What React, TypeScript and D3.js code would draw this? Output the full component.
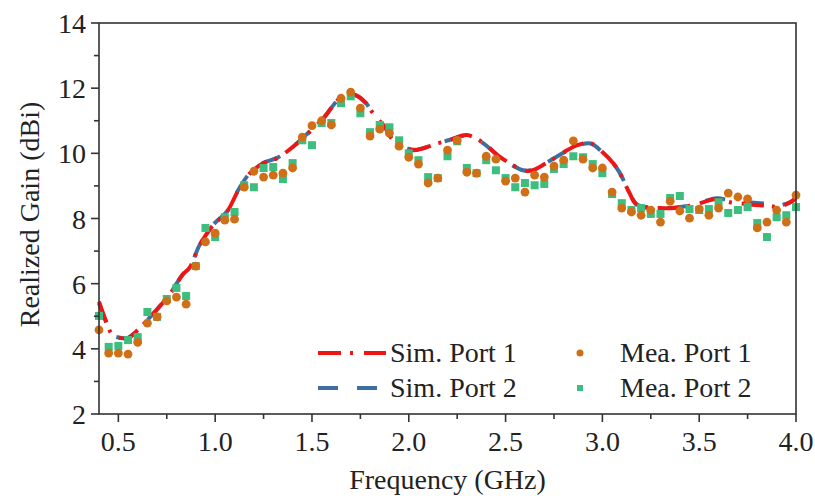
import React from "react";
import * as d3 from "d3";

const simFreq = [0.40, 0.44, 0.47, 0.51, 0.55, 0.61, 0.66, 0.77, 0.83, 0.87, 0.92, 0.99, 1.06, 1.12, 1.18, 1.25, 1.32, 1.40, 1.47, 1.56, 1.645, 1.72, 1.78, 1.815, 1.877, 1.92, 2.02, 2.15, 2.21, 2.30, 2.38, 2.46, 2.52, 2.59, 2.64, 2.71, 2.82, 2.87, 2.94, 3.00, 3.055, 3.09, 3.14, 3.18, 3.30, 3.37, 3.47, 3.59, 3.66, 3.75, 3.87, 3.91, 3.985, 4.0];
const simPort1 = [5.45, 4.79, 4.42, 4.33, 4.33, 4.64, 4.94, 5.71, 6.26, 6.51, 7.18, 7.80, 8.20, 8.87, 9.39, 9.70, 9.85, 10.19, 10.56, 11.08, 11.69, 11.80, 11.54, 11.23, 10.80, 10.40, 10.10, 10.31, 10.40, 10.56, 10.34, 9.94, 9.70, 9.48, 9.48, 9.70, 10.10, 10.25, 10.31, 10.04, 9.70, 9.39, 8.78, 8.41, 8.32, 8.32, 8.41, 8.60, 8.50, 8.44, 8.38, 8.35, 8.56, 8.70];
const simPort2 = [5.40, 4.78, 4.42, 4.34, 4.34, 4.64, 4.95, 5.72, 6.27, 6.52, 7.19, 7.81, 8.21, 8.88, 9.40, 9.71, 9.86, 10.20, 10.57, 11.09, 11.68, 11.79, 11.53, 11.22, 10.80, 10.41, 10.11, 10.31, 10.41, 10.55, 10.33, 9.93, 9.69, 9.48, 9.49, 9.71, 10.09, 10.24, 10.30, 10.03, 9.70, 9.40, 8.79, 8.42, 8.33, 8.33, 8.42, 8.62, 8.55, 8.50, 8.44, 8.40, 8.55, 8.68];

const meaFreq = [0.40, 0.45, 0.50, 0.55, 0.60, 0.65, 0.70, 0.75, 0.80, 0.85, 0.90, 0.95, 1.00, 1.05, 1.10, 1.15, 1.20, 1.25, 1.30, 1.35, 1.40, 1.45, 1.50, 1.55, 1.60, 1.65, 1.70, 1.75, 1.80, 1.85, 1.90, 1.95, 2.00, 2.05, 2.10, 2.15, 2.20, 2.25, 2.30, 2.35, 2.40, 2.45, 2.50, 2.55, 2.60, 2.65, 2.70, 2.75, 2.80, 2.85, 2.90, 2.95, 3.00, 3.05, 3.10, 3.15, 3.20, 3.25, 3.30, 3.35, 3.40, 3.45, 3.50, 3.55, 3.60, 3.65, 3.70, 3.75, 3.80, 3.85, 3.90, 3.95, 4.00];
const meaPort1 = [4.58, 3.87, 3.87, 3.84, 4.20, 4.79, 4.98, 5.47, 5.59, 5.37, 6.54, 7.28, 7.55, 7.95, 7.98, 8.96, 9.45, 9.27, 9.33, 9.39, 9.55, 10.50, 10.85, 11.00, 10.87, 11.69, 11.88, 11.39, 10.53, 10.74, 10.62, 10.22, 9.88, 9.67, 9.09, 9.24, 10.10, 10.40, 9.42, 9.39, 9.91, 9.82, 9.15, 9.24, 8.81, 9.33, 9.27, 9.61, 9.79, 10.38, 9.82, 9.55, 9.55, 8.81, 8.32, 8.20, 8.10, 8.26, 7.89, 8.53, 8.23, 8.01, 8.29, 8.10, 8.32, 8.78, 8.66, 8.60, 7.71, 7.89, 8.26, 7.89, 8.72];
const meaPort2 = [5.01, 4.06, 4.09, 4.27, 4.36, 5.13, 4.98, 5.53, 5.87, 5.62, 6.54, 7.71, 7.43, 8.04, 8.20, 9.02, 8.96, 9.55, 9.58, 9.21, 9.70, 10.40, 10.25, 10.93, 10.93, 11.54, 11.75, 11.23, 10.65, 10.87, 10.80, 10.40, 10.00, 9.79, 9.27, 9.24, 9.91, 10.37, 9.55, 9.39, 9.79, 9.48, 9.24, 8.96, 9.09, 9.02, 9.06, 9.52, 9.67, 9.91, 9.88, 9.67, 9.39, 8.75, 8.47, 8.26, 8.32, 8.14, 8.14, 8.63, 8.69, 8.29, 8.26, 8.29, 8.50, 8.17, 8.26, 8.35, 7.86, 7.43, 8.04, 8.10, 8.35];

const xMajor = [0.5, 1.0, 1.5, 2.0, 2.5, 3.0, 3.5, 4.0];
const xMinor = [0.75, 1.25, 1.75, 2.25, 2.75, 3.25, 3.75];
const yMajor = [2, 4, 6, 8, 10, 12, 14];
const yMinor = [3, 5, 7, 9, 11, 13];

const legendItems = ["Sim. Port 1", "Sim. Port 2", "Mea. Port 1", "Mea. Port 2"];

const RED = "#ee1515";
const BLUE = "#3f6f9f";
const ORANGE = "#cf6f17";
const GREEN = "#3dbe7e";
const AXIS = "#333333";
const TEXT = "#222222";
const FONT = "'Liberation Serif', 'Times New Roman', serif";
const FS = 28;

export default function App() {
  const W = 815, H = 496;
  const x = d3.scaleLinear().domain([0.4, 4.0]).range([99, 796]);
  const y = d3.scaleLinear().domain([2, 14]).range([414, 23]);

  const line = d3.line<number>()
    .x((_, i) => x(simFreq[i]))
    .curve(d3.curveCatmullRom.alpha(0.5));
  const path1 = line.y((d) => y(d))(simPort1) || "";
  const path2 = line.y((d) => y(d))(simPort2) || "";

  const [x0, x1] = x.range();
  const [yb, yt] = y.range();

  return (
    <svg width={W} height={H} style={{ position: "absolute", left: 0, top: 0, background: "#fff" }} fontFamily={FONT}>
      <rect x={0} y={0} width={W} height={H} fill="#fff" />
      {/* sim lines */}
      <path d={path2} fill="none" stroke={BLUE} strokeWidth={4} strokeDasharray="20 19" />
      <path d={path1} fill="none" stroke={RED} strokeWidth={4} strokeDasharray="22 8 3 10" />
      {/* measured */}
      {meaPort2.map((v, i) => (
        <rect key={"g" + i} x={x(meaFreq[i]) - 4} y={y(v) - 4} width={8} height={8} fill={GREEN} />
      ))}
      {meaPort1.map((v, i) => (
        <circle key={"o" + i} cx={x(meaFreq[i])} cy={y(v)} r={4.4} fill={ORANGE} />
      ))}
      {/* frame */}
      <rect x={x0} y={yt} width={x1 - x0} height={yb - yt} fill="none" stroke={AXIS} strokeWidth={1.6} />
      {/* x ticks */}
      {xMajor.map((t) => (
        <g key={"xt" + t}>
          <line x1={x(t)} x2={x(t)} y1={yb} y2={yb + 8} stroke={AXIS} strokeWidth={1.6} />
          <text x={x(t)} y={451} textAnchor="middle" fontSize={FS} fill={TEXT}>{d3.format(".1f")(t)}</text>
        </g>
      ))}
      {xMinor.map((t) => (
        <line key={"xm" + t} x1={x(t)} x2={x(t)} y1={yb} y2={yb + 5} stroke={AXIS} strokeWidth={1.6} />
      ))}
      {/* y ticks */}
      {yMajor.map((t) => (
        <g key={"yt" + t}>
          <line x1={x0 - 8} x2={x0} y1={y(t)} y2={y(t)} stroke={AXIS} strokeWidth={1.6} />
          <text x={86} y={y(t) + 10} textAnchor="end" fontSize={FS} fill={TEXT}>{t}</text>
        </g>
      ))}
      {yMinor.map((t) => (
        <line key={"ym" + t} x1={x0 - 5} x2={x0} y1={y(t)} y2={y(t)} stroke={AXIS} strokeWidth={1.6} />
      ))}
      {/* axis titles */}
      <text x={(x0 + x1) / 2} y={489} textAnchor="middle" fontSize={FS} fill={TEXT}>Frequency (GHz)</text>
      <text transform={`translate(39, ${(yb + yt) / 2 - 4}) rotate(-90)`} textAnchor="middle" fontSize={FS} fill={TEXT}>Realized Gain (dBi)</text>
      {/* legend */}
      <g>
        <line x1={318} x2={386} y1={353} y2={353} stroke={RED} strokeWidth={4} strokeDasharray="23 9 3 11 23" />
        <text x={390} y={362} fontSize={FS} fill={TEXT}>{legendItems[0]}</text>
        <line x1={318} x2={386} y1={388} y2={388} stroke={BLUE} strokeWidth={4} strokeDasharray="20 19 20" />
        <text x={390} y={397} fontSize={FS} fill={TEXT}>{legendItems[1]}</text>
        <circle cx={580} cy={353} r={3.5} fill={ORANGE} />
        <text x={620} y={362} fontSize={FS} fill={TEXT}>{legendItems[2]}</text>
        <rect x={577} y={385} width={6} height={6} fill={GREEN} />
        <text x={620} y={397} fontSize={FS} fill={TEXT}>{legendItems[3]}</text>
      </g>
    </svg>
  );
}
